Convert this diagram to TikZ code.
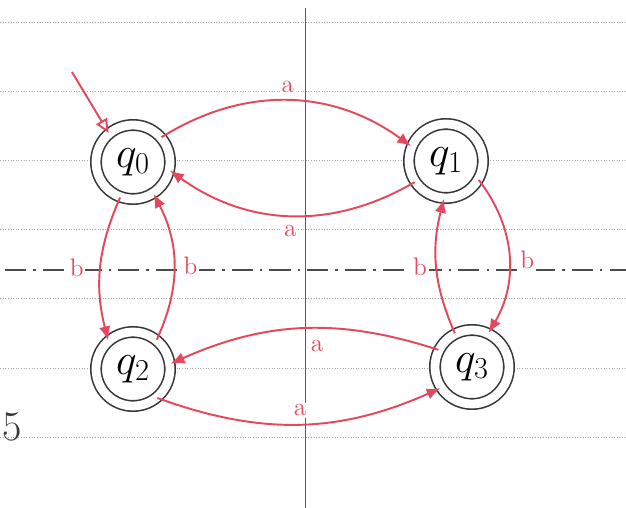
\documentclass[tikz,border=0pt]{standalone}
\usepackage{tikz}
\usetikzlibrary{arrows.meta}
\definecolor{redink}{RGB}{228,72,92}
\definecolor{pencil}{RGB}{55,55,55}
\tikzstyle{state} = [circle, draw=pencil, line width=0.9pt, double, double distance=5pt,
    fill=white, minimum size=1.48cm, inner sep=0pt, font=\fontsize{26}{28}\selectfont]
\tikzstyle{arrow} = [-{Latex[length=8pt,width=6.5pt]}, draw=redink, line width=1.1pt]
\tikzstyle{lbl} = [text=redink, font=\Large, fill=white, inner sep=1pt]
\tikzstyle{rule} = [gray!70, densely dotted, line width=0.5pt]

\begin{document}
\begin{tikzpicture}
        \useasboundingbox[fill=white] (0,0) rectangle (12.52,10.16);
        % Paper
        \foreach \y in {9.72,8.34,6.96,5.58,4.20,2.80,1.42} {
            \draw[rule] (0,\y) -- (12.52,\y);
        }
        \draw[black!65, line width=0.4pt] (6.10,10.0) -- (6.10,0);
        \draw[black!70, line width=0.6pt, dash pattern=on 12pt off 4pt on 1.5pt off 4pt] (0.1,4.76) -- (12.52,4.76);
        \node (five) [text=pencil, font=\fontsize{24}{26}\selectfont, anchor=west, inner sep=0pt] at (0.04,1.62) {5};

        % Nodes
        \node (q0) [state] at (2.66,6.92) {$q_0$};
        \node (q1) [state] at (8.92,6.94) {$q_1$};
        \node (q2) [state] at (2.66,2.78) {$q_2$};
        \node (q3) [state] at (9.44,2.82) {$q_3$};
        \coordinate (start) at (1.44,8.72);

        % Arrows
        \draw[-{Triangle[open,length=8pt,width=7pt]}, draw=redink, line width=1.1pt] (start) -- (q0.130);
        \draw[arrow] (q0.41) to[bend left=34] node[lbl, above=3pt]{a} (q1.157);
        \draw[arrow] (q1.214) to[bend left=33] node[lbl, below=4pt]{a} (q0.347);
        \draw[arrow] (q0.250) to[bend right=19] node[lbl, left=8pt]{b} (q2.131);
        \draw[arrow] (q2.51) to[bend right=26] node[lbl, right=4pt]{b} (q0.303);
        \draw[arrow] (q1.330) to[bend left=34] node[lbl, right=5pt, yshift=-3pt]{b} (q3.64);
        \draw[arrow] (q3.117) to[bend left=19] node[lbl, left=4pt]{b} (q1.267);
        \draw[arrow] (q3.153) to[bend right=21] node[lbl, below=5pt, xshift=8pt]{a} (q2.8);
        \draw[arrow] (q2.310) to[bend right=22] node[lbl, above=3pt]{a} (q3.214);
    \end{tikzpicture}
\end{document}
